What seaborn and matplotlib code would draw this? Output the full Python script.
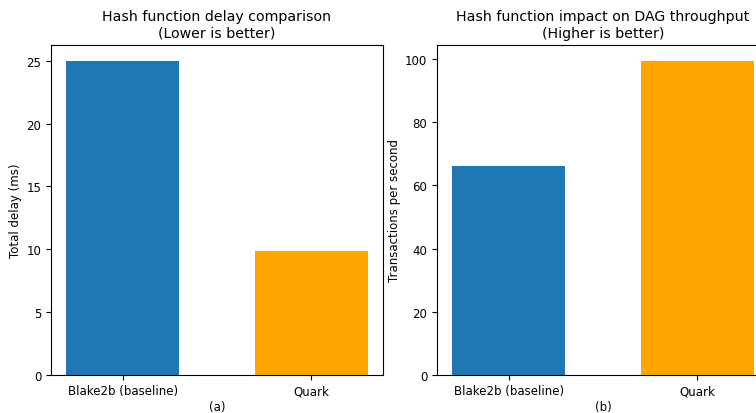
import matplotlib
matplotlib.use("Agg")
import matplotlib.pyplot as plt
import seaborn as sns
import pandas as pd

categories = ["Blake2b (baseline)", "Quark"]
delay_ms = [25.0, 9.9]
throughput_tps = [66.0, 99.4]
colors = ["#1f77b4", "#ffa500"]

fig = plt.figure(figsize=(7.56, 4.14), dpi=100)
W, H = 756, 414
ax1 = fig.add_axes([51 / W, (H - 376) / H, 332 / W, 330 / H])
ax2 = fig.add_axes([437 / W, (H - 376) / H, 332 / W, 330 / H])

df1 = pd.DataFrame({"cat": categories, "val": delay_ms})
df2 = pd.DataFrame({"cat": categories, "val": throughput_tps})

for ax, df, title, ylabel, xlabel in [
    (ax1, df1, "Hash function delay comparison\n(Lower is better)", "Total delay (ms)", "(a)"),
    (ax2, df2, "Hash function impact on DAG throughput\n(Higher is better)", "Transactions per second", "(b)"),
]:
    sns.barplot(data=df, x="cat", y="val", hue="cat", palette=colors, width=0.6,
                saturation=1, legend=False, ax=ax, linewidth=0)
    ax.set_title(title, fontsize=10.2, pad=6)
    ax.set_ylabel(ylabel, fontsize=8.5, labelpad=3)
    ax.set_xlabel(xlabel, fontsize=8.5, labelpad=2)
    ax.tick_params(axis="x", labelsize=8.5, pad=3)
    ax.tick_params(axis="y", labelsize=8.5)
    ax.set_xlim(-0.38, 1.38)

fig.savefig("out.png", dpi=100)
